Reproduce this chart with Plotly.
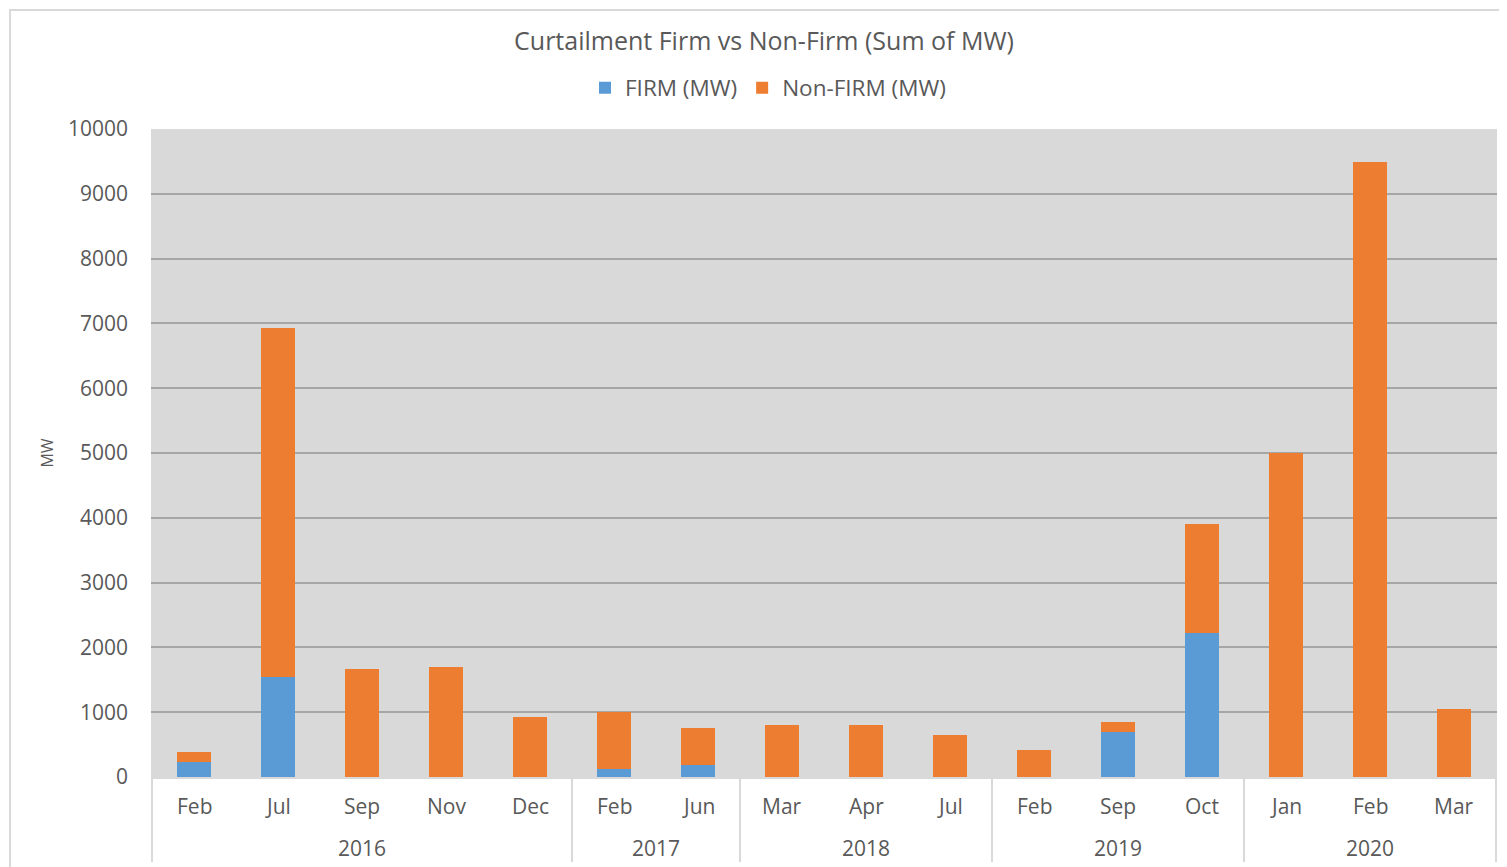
import plotly.graph_objects as go

years = ["2016"] * 5 + ["2017"] * 2 + ["2018"] * 3 + ["2019"] * 3 + ["2020"] * 3
months = ["Feb", "Jul", "Sep", "Nov", "Dec",
          "Feb", "Jun",
          "Mar", "Apr", "Jul",
          "Feb", "Sep", "Oct",
          "Jan", "Feb", "Mar"]
firm = [230, 1550, 0, 0, 0, 130, 180, 0, 0, 0, 0, 690, 2230, 0, 0, 0]
non_firm = [160, 5380, 1660, 1690, 920, 870, 580, 810, 810, 650, 420, 160, 1670, 5000, 9490, 1050]

FONT = "Open Sans"
TXT = "#595959"
LIGHT = "#D9D9D9"

keys = [f"{y} {m}" for y, m in zip(years, months)]

fig = go.Figure()
fig.add_trace(go.Bar(x=keys, y=firm, name="FIRM (MW)",
                     marker=dict(color="#5B9BD5", line=dict(width=0))))
fig.add_trace(go.Bar(x=keys, y=non_firm, name="Non-FIRM (MW)",
                     marker=dict(color="#ED7D31", line=dict(width=0))))

# page has an 8px body margin; reference pixel coords are shifted by it
OFF = 8
W, H = 1507 - OFF, 867 - OFF
L, R, T, B = 151 - OFF, 10, 129 - OFF, 90
pw, ph = W - L - R, H - T - B


def px2x(px):
    return (px - OFF - L) / pw


def py2y(py):
    return (H - B - (py - OFF)) / ph


fig.update_layout(
    width=W, height=H,
    barmode="stack", bargap=0.6,
    paper_bgcolor="white", plot_bgcolor=LIGHT,
    margin=dict(l=L, r=R, t=T, b=B, autoexpand=False),
    font=dict(family=FONT, color=TXT, size=21),
    title=dict(text="Curtailment Firm vs Non-Firm (Sum of MW)", x=px2x(764), xref="paper",
               xanchor="center", y=1 - (41 - OFF) / H, yanchor="middle",
               font=dict(size=25, color=TXT, family=FONT)),
    legend=dict(orientation="h", x=px2x(768), xanchor="center", y=py2y(88), yanchor="middle",
                font=dict(size=22.5, color=TXT, family=FONT), traceorder="normal",
                itemwidth=30, bgcolor="rgba(0,0,0,0)"),
    showlegend=True,
)
fig.update_yaxes(range=[0, 10000], dtick=1000, tickformat="d", showgrid=True,
                 gridcolor="#A6A6A6", gridwidth=1.6, zeroline=False, showline=False,
                 ticks="", ticklabelstandoff=22,
                 tickfont=dict(size=21, color=TXT, family=FONT),
                 title=dict(text="MW", font=dict(size=16, color=TXT, family=FONT), standoff=10))
fig.update_xaxes(type="category", showgrid=False, showline=True, linecolor=LIGHT,
                 linewidth=2, showticklabels=False, ticks="")

# month labels
for i, m in enumerate(months):
    fig.add_annotation(x=i, y=py2y(806), xref="x", yref="paper", text=m, showarrow=False,
                       xanchor="center", yanchor="middle",
                       font=dict(size=21, color=TXT, family=FONT))

# year group labels and dividers
groups = []
for i, y in enumerate(years):
    if not groups or groups[-1][0] != y:
        groups.append([y, i, i])
    else:
        groups[-1][2] = i
for y, a, b in groups:
    fig.add_annotation(x=(a + b) / 2, y=py2y(848), xref="x", yref="paper", text=y,
                       showarrow=False, xanchor="center", yanchor="middle",
                       font=dict(size=21, color=TXT, family=FONT))
bounds = [groups[0][1] - 0.5] + [g[2] + 0.5 for g in groups]
for bx in bounds:
    fig.add_shape(type="line", xref="x", yref="paper", x0=bx, x1=bx,
                  y0=py2y(777), y1=py2y(862), line=dict(color=LIGHT, width=2))

# outer chart border
fig.add_shape(type="rect", xref="paper", yref="paper",
              x0=px2x(10), x1=px2x(1512), y0=py2y(872), y1=py2y(10),
              line=dict(color=LIGHT, width=2), fillcolor="rgba(0,0,0,0)", layer="below")

fig.write_html("out.html")
